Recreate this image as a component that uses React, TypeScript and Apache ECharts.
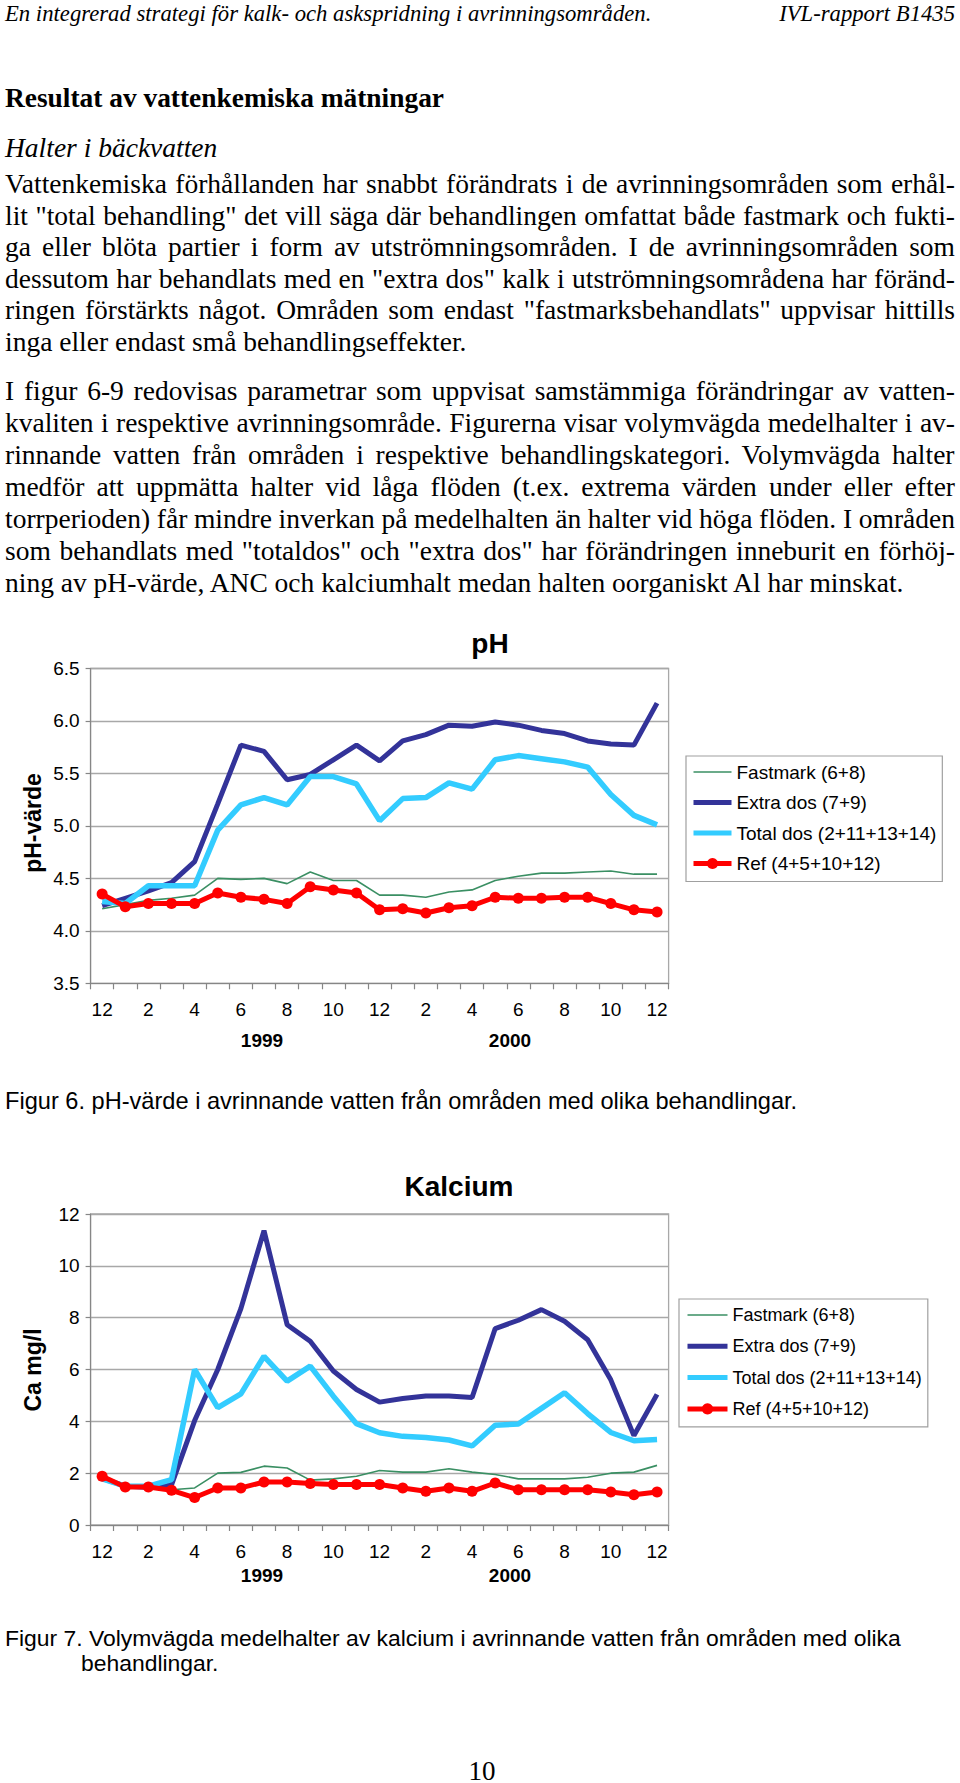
import React, { useEffect, useRef } from "react";
import * as echarts from "echarts";

// ---------- data ----------
const categories = [
  "1998-12", "1999-01", "1999-02", "1999-03", "1999-04", "1999-05", "1999-06",
  "1999-07", "1999-08", "1999-09", "1999-10", "1999-11", "1999-12", "2000-01",
  "2000-02", "2000-03", "2000-04", "2000-05", "2000-06", "2000-07", "2000-08",
  "2000-09", "2000-10", "2000-11", "2000-12",
];
const monthNumbers = [12, 1, 2, 3, 4, 5, 6, 7, 8, 9, 10, 11, 12, 1, 2, 3, 4, 5, 6, 7, 8, 9, 10, 11, 12];
const yearLabels = ["1999", "2000"];
const seriesNames = ["Fastmark (6+8)", "Extra dos (7+9)", "Total dos (2+11+13+14)", "Ref (4+5+10+12)"];

const phFastmark = [4.21, 4.25, 4.29, 4.31, 4.34, 4.5, 4.49, 4.5, 4.45, 4.56, 4.48, 4.48, 4.34, 4.34, 4.32, 4.37, 4.39, 4.48, 4.52, 4.55, 4.55, 4.56, 4.57, 4.54, 4.54];
const phExtra = [4.24, 4.31, 4.38, 4.46, 4.66, 5.21, 5.77, 5.71, 5.44, 5.49, 5.63, 5.77, 5.62, 5.81, 5.87, 5.96, 5.95, 5.99, 5.96, 5.91, 5.88, 5.81, 5.78, 5.77, 6.17];
const phTotal = [4.28, 4.26, 4.43, 4.43, 4.43, 4.96, 5.2, 5.27, 5.2, 5.47, 5.47, 5.4, 5.05, 5.26, 5.27, 5.41, 5.35, 5.63, 5.67, 5.64, 5.61, 5.56, 5.3, 5.1, 5.01];
const phRef = [4.35, 4.23, 4.26, 4.26, 4.26, 4.36, 4.32, 4.3, 4.26, 4.42, 4.39, 4.36, 4.2, 4.21, 4.17, 4.22, 4.24, 4.32, 4.31, 4.31, 4.32, 4.32, 4.26, 4.2, 4.18];

const caFastmark = [1.75, 1.5, 1.4, 1.36, 1.43, 2.0, 2.03, 2.27, 2.2, 1.73, 1.78, 1.88, 2.1, 2.04, 2.04, 2.17, 2.04, 1.95, 1.78, 1.78, 1.78, 1.84, 2.0, 2.04, 2.3];
const caExtra = [1.8, 1.5, 1.45, 1.55, 4.03, 6.0, 8.35, 11.36, 7.73, 7.09, 5.94, 5.23, 4.74, 4.88, 4.98, 4.98, 4.92, 7.58, 7.9, 8.31, 7.86, 7.15, 5.6, 3.45, 5.04];
const caTotal = [1.78, 1.5, 1.5, 1.75, 6.0, 4.53, 5.06, 6.51, 5.55, 6.13, 4.97, 3.91, 3.56, 3.42, 3.38, 3.28, 3.05, 3.85, 3.9, 4.5, 5.1, 4.3, 3.57, 3.25, 3.3];
const caRef = [1.88, 1.47, 1.47, 1.34, 1.06, 1.43, 1.43, 1.66, 1.66, 1.6, 1.56, 1.56, 1.56, 1.43, 1.3, 1.43, 1.3, 1.62, 1.36, 1.36, 1.36, 1.36, 1.27, 1.17, 1.27];

// ---------- page text ----------
const headerLeft = "En integrerad strategi för kalk- och askspridning i avrinningsområden.";
const headerRight = "IVL-rapport B1435";
const heading = "Resultat av vattenkemiska mätningar";
const subHeading = "Halter i bäckvatten";
const para1 = [
  "Vattenkemiska förhållanden har snabbt förändrats i de avrinningsområden som erhål-",
  "lit \"total behandling\" det vill säga där behandlingen omfattat både fastmark och fukti-",
  "ga eller blöta partier i form av utströmningsområden. I de avrinningsområden som",
  "dessutom har behandlats med en \"extra dos\" kalk i utströmningsområdena har föränd-",
  "ringen förstärkts något. Områden som endast \"fastmarksbehandlats\" uppvisar hittills",
  "inga eller endast små behandlingseffekter.",
];
const para2 = [
  "I figur 6-9 redovisas parametrar som uppvisat samstämmiga förändringar av vatten-",
  "kvaliten i respektive avrinningsområde. Figurerna visar volymvägda medelhalter i av-",
  "rinnande vatten från områden i respektive behandlingskategori. Volymvägda halter",
  "medför att uppmätta halter vid låga flöden (t.ex. extrema värden under eller efter",
  "torrperioden) får mindre inverkan på medelhalten än halter vid höga flöden. I områden",
  "som behandlats med \"totaldos\" och \"extra dos\" har förändringen inneburit en förhöj-",
  "ning av pH-värde, ANC och kalciumhalt medan halten oorganiskt Al har minskat.",
];
const caption6 = "Figur 6. pH-värde i avrinnande vatten från områden med olika behandlingar.";
const caption7a = "Figur 7. Volymvägda medelhalter av kalcium i avrinnande vatten från områden med olika";
const caption7b = "behandlingar.";
const pageNumber = "10";

const SERIF = '"Liberation Serif", "Times New Roman", serif';
const SANS = '"Liberation Sans", Arial, Helvetica, sans-serif';

let measureCtx: CanvasRenderingContext2D | null = null;
function measure(text: string, font: string): number {
  if (!measureCtx) measureCtx = document.createElement("canvas").getContext("2d");
  if (!measureCtx) return 0;
  measureCtx.font = font;
  return measureCtx.measureText(text).width;
}

type LineProps = {
  text: string;
  y: number;
  size: number;
  family?: string;
  weight?: string;
  italic?: boolean;
  x?: number;
  justifyTo?: number;
  align?: "left" | "right" | "center";
};

function TextLine({ text, y, size, family = SERIF, weight = "normal", italic = false, x = 5, justifyTo, align = "left" }: LineProps) {
  const lh = Math.round(size * 1.15);
  let wordSpacing = 0;
  if (justifyTo) {
    const font = `${italic ? "italic " : ""}${weight} ${size}px ${family}`;
    const w = measure(text, font);
    const spaces = (text.match(/ /g) || []).length;
    if (spaces > 0 && w > 0) wordSpacing = (justifyTo - w) / spaces;
  }
  const style: React.CSSProperties = {
    position: "absolute",
    top: y - lh / 2,
    height: lh,
    lineHeight: `${lh}px`,
    fontFamily: family,
    fontSize: size,
    fontWeight: weight as any,
    fontStyle: italic ? "italic" : "normal",
    whiteSpace: "pre",
    wordSpacing: `${wordSpacing}px`,
    color: "#000",
  };
  if (align === "right") style.right = 960 - x;
  else if (align === "center") { style.left = x - 200; style.width = 400; style.textAlign = "center"; }
  else style.left = x;
  return <div style={style}>{text}</div>;
}

const CH_TOP = 600;

const lineStyles = [
  { color: "#3a8f63", width: 1.6, symbol: "none" },
  { color: "#333399", width: 5, symbol: "none" },
  { color: "#33ccff", width: 5.5, symbol: "none" },
  { color: "#ff0000", width: 5, symbol: "circle" },
];

function buildOption(): any {
  const gridColor = "#a8a8a8";
  const axisColor = "#868686";
  const mkX = (gridIndex: number) => ({
    type: "category",
    gridIndex,
    data: categories,
    boundaryGap: true,
    axisLine: { show: true, lineStyle: { color: axisColor, width: 1.2 } },
    axisTick: { show: true, interval: 0, length: 6, lineStyle: { color: axisColor, width: 1.2 } },
    axisLabel: {
      interval: 1,
      margin: 17,
      fontSize: 19,
      color: "#000",
      fontFamily: SANS,
      formatter: (_v: string, i: number) => String(monthNumbers[i]),
    },
    splitLine: { show: false },
  });
  const mkY = (gridIndex: number, min: number, max: number, interval: number, digits: number) => ({
    type: "value",
    gridIndex,
    min,
    max,
    interval,
    axisLine: { show: true, lineStyle: { color: axisColor, width: 1.2 } },
    axisTick: { show: true, length: 5, lineStyle: { color: axisColor, width: 1.2 } },
    axisLabel: {
      margin: 11,
      fontSize: 19,
      color: "#000",
      fontFamily: SANS,
      formatter: (v: number) => v.toFixed(digits),
    },
    splitLine: { show: true, lineStyle: { color: gridColor, width: 1.3 } },
  });

  const mkSeries = (data: number[][], gi: number) =>
    data.map((d, k) => ({
      type: "line",
      name: seriesNames[k],
      xAxisIndex: gi,
      yAxisIndex: gi,
      data: d,
      smooth: false,
      symbol: lineStyles[k].symbol,
      symbolSize: 11,
      showSymbol: lineStyles[k].symbol !== "none",
      lineStyle: { color: lineStyles[k].color, width: lineStyles[k].width },
      itemStyle: { color: lineStyles[k].color },
      emphasis: { disabled: true },
      z: 2 + k,
    }));

  const legendItems = seriesNames.map((n, k) => ({
    name: n,
    itemStyle: k === 3 ? { color: lineStyles[k].color, opacity: 1 } : { color: lineStyles[k].color, opacity: 0 },
    lineStyle: { color: lineStyles[k].color, width: Math.min(lineStyles[k].width, 5) },
  }));

  const legendBase = {
    data: legendItems,
    orient: "vertical",
    selectedMode: false,
    borderColor: "#a0a0a0",
    borderWidth: 1.2,
    backgroundColor: "#ffffff",
    itemHeight: 14,
  };

  const bold = (size: number) => `bold ${size}px ${SANS}`;
  const txt = (text: string, x: number, y: number, font: string, rotation = 0) => ({
    type: "text",
    x,
    y,
    rotation,
    style: {
      text,
      font,
      fill: "#000",
      align: "center",
      verticalAlign: "middle",
      textAlign: "center",
      textVerticalAlign: "middle",
    },
  });

  return {
    animation: false,
    backgroundColor: "transparent",
    grid: [
      { left: 90.6, top: 668.5 - CH_TOP, width: 578, height: 314.8, show: true, borderColor: gridColor, borderWidth: 1.3, backgroundColor: "transparent" },
      { left: 90.6, top: 1214 - CH_TOP, width: 578, height: 311, show: true, borderColor: gridColor, borderWidth: 1.3, backgroundColor: "transparent" },
    ],
    xAxis: [mkX(0), mkX(1)],
    yAxis: [mkY(0, 3.5, 6.5, 0.5, 1), mkY(1, 0, 12, 2, 0)],
    legend: [
      {
        ...legendBase,
        left: 686,
        top: 756 - CH_TOP,
        padding: [6, 6, 8, 5],
        itemGap: 10.5,
        itemWidth: 38,
        textStyle: { fontSize: 19, lineHeight: 20, fontFamily: SANS, color: "#000" },
      },
      {
        ...legendBase,
        left: 679,
        top: 1299 - CH_TOP,
        padding: [6, 6, 8, 6],
        itemGap: 11.3,
        itemWidth: 40,
        textStyle: { fontSize: 18, lineHeight: 20, fontFamily: SANS, color: "#000" },
      },
    ],
    graphic: [
      txt("pH", 490, 643 - CH_TOP, bold(28)),
      txt("pH-värde", 33, 823 - CH_TOP, bold(23), Math.PI / 2),
      txt(yearLabels[0], 262, 1040 - CH_TOP, bold(19)),
      txt(yearLabels[1], 510, 1040 - CH_TOP, bold(19)),
      txt("Kalcium", 459, 1186 - CH_TOP, bold(28)),
      txt("Ca mg/l", 33, 1370 - CH_TOP, bold(23), Math.PI / 2),
      txt(yearLabels[0], 262, 1575 - CH_TOP, bold(19)),
      txt(yearLabels[1], 510, 1575 - CH_TOP, bold(19)),
    ],
    series: [
      ...mkSeries([phFastmark, phExtra, phTotal, phRef], 0),
      ...mkSeries([caFastmark, caExtra, caTotal, caRef], 1),
    ],
  };
}

export default function App() {
  const chartRef = useRef<HTMLDivElement>(null);

  useEffect(() => {
    if (!chartRef.current) return;
    const chart = echarts.init(chartRef.current, null, { renderer: "svg" });
    chart.setOption(buildOption());
    return () => chart.dispose();
  }, []);

  const p1Y = 184;
  const p1Step = 31.5;
  const p2Y = 391;
  const p2Step = 32;
  const body = 27.5;

  return (
    <div style={{ position: "absolute", left: 0, top: 0, width: 960, height: 1783, background: "#fff", overflow: "hidden" }}>
      <TextLine text={headerLeft} y={14} size={22.7} italic />
      <TextLine text={headerRight} y={14} size={22.7} italic x={955} align="right" />
      <TextLine text={heading} y={98} size={27.4} weight="bold" />
      <TextLine text={subHeading} y={148} size={body} italic />
      {para1.map((t, i) => (
        <TextLine key={"a" + i} text={t} y={p1Y + i * p1Step} size={body} justifyTo={i < para1.length - 1 ? 950 : undefined} />
      ))}
      {para2.map((t, i) => (
        <TextLine key={"b" + i} text={t} y={p2Y + i * p2Step} size={body} justifyTo={i < para2.length - 1 ? 950 : undefined} />
      ))}
      <div ref={chartRef} style={{ position: "absolute", left: 0, top: CH_TOP, width: 960, height: 1000 }} />
      <TextLine text={caption6} y={1101} size={23.6} family={SANS} />
      <TextLine text={caption7a} y={1638} size={22.9} family={SANS} />
      <TextLine text={caption7b} y={1663} size={22.9} family={SANS} x={81} />
      <TextLine text={pageNumber} y={1771} size={27} x={482} align="center" />
    </div>
  );
}
